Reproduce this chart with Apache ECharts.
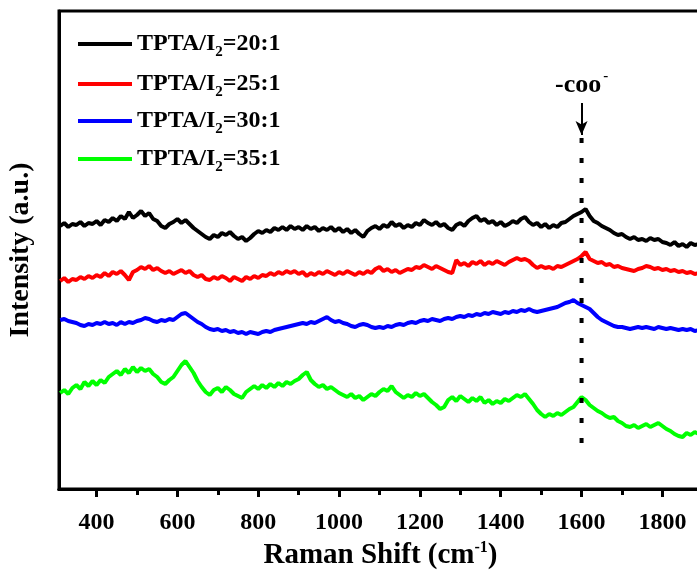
<!DOCTYPE html>
<html><head><meta charset="utf-8">
<script src="https://cdn.jsdelivr.net/npm/echarts@6/dist/echarts.min.js"></script>
<style>html,body{margin:0;padding:0;background:#fff}#c{width:697px;height:571px}</style>
</head><body><div id="c"></div>
<script>
const ramanShift = [
310,320,330,340,350,360,370,380,390,400,
410,420,430,440,450,460,470,480,490,500,
510,520,530,540,550,560,570,580,590,600,
610,620,630,640,650,660,670,680,690,700,
710,720,730,740,750,760,770,780,790,800,
810,820,830,840,850,860,870,880,890,900,
910,920,930,940,950,960,970,980,990,1000,
1010,1020,1030,1040,1050,1060,1070,1080,1090,1100,
1110,1120,1130,1140,1150,1160,1170,1180,1190,1200,
1210,1220,1230,1240,1250,1260,1270,1280,1290,1300,
1310,1320,1330,1340,1350,1360,1370,1380,1390,1400,
1410,1420,1430,1440,1450,1460,1470,1480,1490,1500,
1510,1520,1530,1540,1550,1560,1570,1580,1590,1600,
1610,1620,1630,1640,1650,1660,1670,1680,1690,1700,
1710,1720,1730,1740,1750,1760,1770,1780,1790,1800,
1810,1820,1830,1840,1850,1860,1870,1880,1890];

const ratio20 = [
263,266,262,265,264,267,263,266,265,268,
264,269,267,271,268,273,270,277,271,274,
278,273,276,270,268,263,261,265,267,270,
266,269,265,261,258,255,252,250,254,252,
256,254,257,253,250,252,248,251,255,258,
256,259,257,261,259,262,259,263,260,262,
259,263,260,262,258,261,259,262,258,261,
257,260,256,259,255,252,258,261,263,260,
264,262,267,263,265,261,264,262,266,264,
269,266,264,267,263,265,261,259,264,266,
263,268,271,273,268,270,266,268,264,267,
263,265,268,266,270,272,267,264,266,262,
265,261,264,262,266,267,270,273,275,277,
280,273,268,266,263,261,259,256,254,255,
252,250,252,249,250,248,251,249,250,247,
246,244,247,243,245,242,246,244,245];

const ratio25 = [
208,211,207,210,209,212,210,213,211,214,
212,216,213,217,215,218,214,209,217,219,
222,220,223,219,221,218,216,218,215,217,
219,216,218,214,212,214,210,209,212,210,
213,211,208,212,210,208,212,210,213,211,
214,213,216,214,217,215,218,216,218,215,
217,213,216,214,217,215,218,216,214,217,
215,218,216,214,217,215,218,216,220,222,
218,220,217,219,216,218,220,219,222,221,
224,222,220,223,221,219,217,216,229,224,
226,223,227,225,228,224,227,225,228,226,
224,227,229,231,229,230,228,224,221,223,
221,222,220,223,222,224,226,228,230,233,
237,230,228,226,227,224,225,222,223,221,
220,219,218,220,221,223,222,220,221,219,
220,218,219,217,218,216,217,215,216];

const ratio30 = [
169,170,168,167,166,164,163,165,164,166,
165,167,165,166,164,167,165,167,166,168,
169,171,170,168,167,169,168,170,169,172,
175,176,173,170,167,165,162,160,159,160,
158,159,157,158,156,157,155,157,156,155,
157,158,157,159,160,161,162,163,164,165,
166,165,167,166,168,170,172,169,167,168,
166,165,163,162,164,165,164,162,161,162,
161,163,162,164,165,164,166,167,166,168,
169,168,170,169,168,170,171,170,172,173,
172,174,173,175,174,176,175,177,176,175,
177,176,178,177,179,178,180,178,177,178,
179,180,181,182,184,186,187,189,186,184,
182,180,176,172,169,167,165,163,162,162,
161,160,161,162,161,162,161,160,162,161,
160,161,160,159,160,159,160,158,159];

const ratio35 = [
96,99,95,101,104,100,107,103,108,104,
109,106,112,115,118,114,120,116,122,117,
121,118,120,115,112,107,105,109,112,118,
124,128,122,116,108,102,97,94,99,101,
97,102,99,95,93,91,97,100,103,100,
104,101,105,102,106,103,107,105,108,110,
114,117,109,105,102,104,100,102,99,96,
94,92,95,91,93,89,92,95,93,97,
100,98,103,97,94,91,94,92,96,93,
95,91,87,84,80,82,89,92,88,93,
90,87,91,88,92,86,89,85,88,86,
90,88,91,94,92,95,90,85,79,75,
72,75,73,76,74,77,80,82,87,92,
89,84,81,78,76,73,71,72,68,66,
63,62,64,61,63,65,62,64,66,63,
60,58,55,53,52,56,54,57,55];

const seriesNames = ['TPTA/I2=20:1','TPTA/I2=25:1','TPTA/I2=30:1','TPTA/I2=35:1'];
const legendRatios = ['20:1','25:1','30:1','35:1'];
const seriesColors = ['#000000','#ff0000','#0000ff','#00ff00'];
const majorTicks = [400,600,800,1000,1200,1400,1600,1800];
const minorTicks = [500,700,900,1100,1300,1500,1700];
const peakShift = 1600;
const peakGuideRange = [351, 31];
const peakArrowRange = [386, 354];

const X_MIN = 307, X_MAX = 1898, Y_MIN = 0, Y_MAX = 478;
const GRID_TOP = 11, GRID_BOTTOM = 82;
const PLOT_H = 571 - GRID_TOP - GRID_BOTTOM;
const FONT = '"Liberation Serif","Times New Roman",serif';

const allData = [ratio20, ratio25, ratio30, ratio35];
const zip = (ys) => ramanShift.map((x, i) => [x, ys[i]]);

const legendTops = [28, 68, 105, 143];
const legends = seriesNames.map((n, i) => ({
  data: [n], left: 78, top: legendTops[i], padding: 0,
  icon: 'rect', itemWidth: 54, itemHeight: 4, itemGap: 0,
  selectedMode: false,
  formatter: () => '{t|TPTA/I}{s|2}{t|=' + legendRatios[i] + '}',
  textStyle: {
    color: '#000',
    rich: {
      t: { fontFamily: FONT, fontWeight: 'bold', fontSize: 24, color: '#000', lineHeight: 28 },
      s: { fontFamily: FONT, fontWeight: 'bold', fontSize: 15, color: '#000', padding: [17, 0, 0, 0], lineHeight: 15 }
    }
  }
}));

const series = seriesNames.map((n, i) => ({
  name: n, type: 'line', data: zip(allData[i]), showSymbol: false, symbol: 'none',
  xAxisIndex: 0, yAxisIndex: 0,
  lineStyle: { color: seriesColors[i], width: 4 }, itemStyle: { color: seriesColors[i] },
  clip: true, silent: true
}));

series.push({
  name: 'peak', type: 'line', symbol: 'none', silent: true,
  xAxisIndex: 0, yAxisIndex: 0,
  data: [[peakShift, peakGuideRange[0]], [peakShift, peakGuideRange[1]]],
  lineStyle: { color: '#000', width: 4, type: [5, 15], cap: 'butt' },
  markLine: {
    silent: true, animation: false,
    symbol: ['none', 'arrow'], symbolSize: [9, 14],
    lineStyle: { color: '#000', width: 2, type: 'solid' },
    label: {
      show: true, position: 'start', distance: 1,
      formatter: () => '{a|-coo}{b|-}',
      rich: {
        a: { fontFamily: FONT, fontWeight: 'bold', fontSize: 26, color: '#000' },
        b: { fontFamily: FONT, fontWeight: 'bold', fontSize: 15, color: '#000', padding: [0, 0, 18, 2] }
      }
    },
    data: [[{ coord: [peakShift, peakArrowRange[0]] }, { coord: [peakShift, peakArrowRange[1]] }]]
  }
});

const baseAxis = { type: 'value', min: X_MIN, max: X_MAX, splitLine: { show: false } };

const option = {
  animation: false,
  backgroundColor: '#fff',
  grid: { left: 59, right: -5, top: GRID_TOP, bottom: GRID_BOTTOM, containLabel: false, outerBoundsMode: 'none',
          show: true, borderColor: '#000', borderWidth: 3, backgroundColor: 'transparent' },
  legend: legends,
  xAxis: [
    Object.assign({}, baseAxis, {
      position: 'bottom',
      name: '{n|Raman Shift (cm}{p|-1}{n|)}', nameLocation: 'middle', nameGap: 48,
      nameTextStyle: { rich: {
        n: { fontFamily: FONT, fontWeight: 'bold', fontSize: 29, color: '#000' },
        p: { fontFamily: FONT, fontWeight: 'bold', fontSize: 16, color: '#000', padding: [0, 0, 15, 0] }
      } },
      axisLine: { show: true, onZero: false, lineStyle: { color: '#000', width: 3 } },
      axisTick: { show: true, inside: false, length: 8, customValues: majorTicks, lineStyle: { color: '#000', width: 3 } },
      axisLabel: { show: true, customValues: majorTicks, margin: 22, formatter: (v) => String(v),
        fontFamily: FONT, fontWeight: 'bold', fontSize: 24, color: '#000' }
    }),
    Object.assign({}, baseAxis, {
      position: 'top', offset: -PLOT_H,
      axisLine: { show: true, onZero: false, lineStyle: { color: '#000', width: 3 } },
      axisTick: { show: true, inside: true, length: 6, customValues: minorTicks, lineStyle: { color: '#000', width: 3 } },
      axisLabel: { show: false }
    })
  ],
  yAxis: {
    type: 'value', min: Y_MIN, max: Y_MAX,
    name: 'Intensity (a.u.)', nameLocation: 'middle', nameGap: 24, nameRotate: 90,
    nameTextStyle: { fontFamily: FONT, fontWeight: 'bold', fontSize: 28, color: '#000' },
    axisLine: { show: true, onZero: false, lineStyle: { color: '#000', width: 3 } },
    axisTick: { show: false }, axisLabel: { show: false }, splitLine: { show: false }
  },
  series: series
};

const chart = echarts.init(document.getElementById('c'), null, { renderer: 'canvas' });
chart.setOption(option);
</script></body></html>
